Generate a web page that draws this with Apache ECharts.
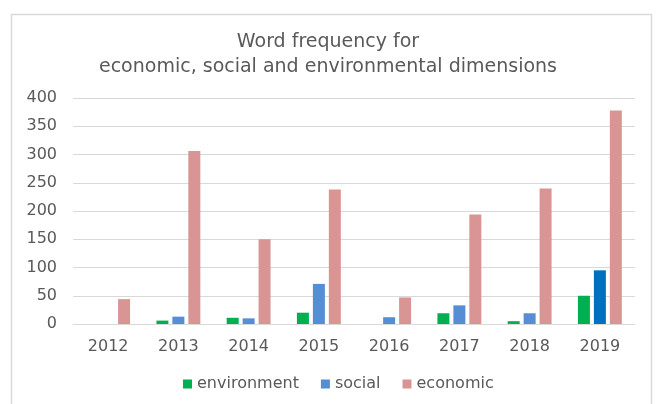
<!DOCTYPE html>
<html>
<head>
<meta charset="utf-8">
<script src="https://cdn.jsdelivr.net/npm/echarts@6/dist/echarts.min.js"></script>
<style>
  html, body { margin: 0; padding: 0; background: #fff; }
  #chart { width: 656px; height: 404px; }
</style>
</head>
<body>
<div id="chart"></div>
<script>
// chart data
var years = ['2012', '2013', '2014', '2015', '2016', '2017', '2018', '2019'];
var environment = [0, 6, 11, 20, 0, 19, 5, 50];
var social = [0, 13, 10, 71, 12, 33, 19, 95];
var economic = [44, 306, 150, 238, 47, 194, 240, 378];
var yTicks = [0, 50, 100, 150, 200, 250, 300, 350, 400];

var textColor = '#595959';
var fontFam = "'DejaVu Sans', Verdana, sans-serif";

var myChart = echarts.init(document.getElementById('chart'));

// last social bar is drawn in a darker blue
var socialData = social.map(function (v, i) {
    if (i === social.length - 1) {
        return { value: v, itemStyle: { color: '#0070C0' } };
    }
    return v;
});

var option = {
    animation: false,
    textStyle: { fontFamily: fontFam },
    graphic: [
        {
            type: 'rect',
            shape: { x: 11.5, y: 14.5, width: 640, height: 400 },
            style: { fill: 'none', stroke: '#d9d9d9', lineWidth: 1.5 },
            silent: true
        }
    ],
    title: {
        text: 'Word frequency for\neconomic, social and environmental dimensions',
        left: 'center',
        top: 25,
        textStyle: {
            color: textColor,
            fontSize: 19,
            fontWeight: 'normal',
            lineHeight: 25,
            fontFamily: fontFam
        }
    },
    legend: {
        bottom: 7,
        left: 178,
        itemWidth: 9,
        itemHeight: 9,
        itemGap: 22,
        icon: 'rect',
        textStyle: { color: textColor, fontSize: 16, fontFamily: fontFam },
        data: ['environment', 'social', 'economic']
    },
    grid: {
        left: 73,
        right: 21,
        top: 98,
        bottom: 80
    },
    xAxis: {
        type: 'category',
        data: years,
        axisLine: { lineStyle: { color: '#d9d9d9', width: 1 } },
        axisTick: { show: false },
        axisLabel: { color: textColor, fontSize: 16, margin: 15, fontFamily: fontFam }
    },
    yAxis: {
        type: 'value',
        min: yTicks[0],
        max: yTicks[yTicks.length - 1],
        interval: 50,
        axisLine: { show: false },
        axisTick: { show: false },
        splitLine: { lineStyle: { color: '#d9d9d9', width: 1 } },
        axisLabel: { color: textColor, fontSize: 16, margin: 16, fontFamily: fontFam }
    },
    series: [
        {
            name: 'environment',
            type: 'bar',
            data: environment,
            barWidth: 12,
            barGap: '33%',
            itemStyle: { color: '#00B050' }
        },
        {
            name: 'social',
            type: 'bar',
            data: socialData,
            barWidth: 12,
            barGap: '33%',
            itemStyle: { color: '#558ED5' }
        },
        {
            name: 'economic',
            type: 'bar',
            data: economic,
            barWidth: 12,
            barGap: '33%',
            itemStyle: { color: '#D99594' }
        }
    ]
};

myChart.setOption(option);
</script>
</body>
</html>
